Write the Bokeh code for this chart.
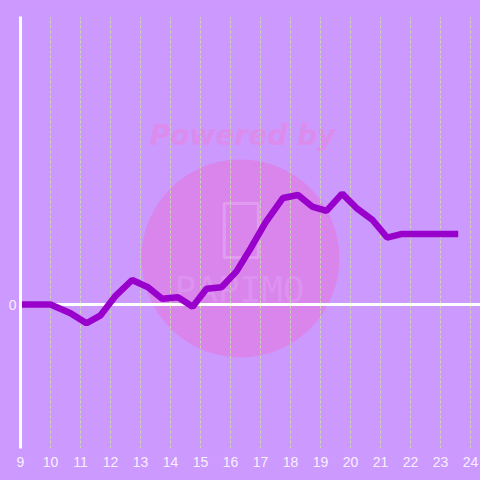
from bokeh.plotting import figure
from bokeh.models import FixedTicker, Span, Range1d
from bokeh.core.properties import value
from bokeh.embed import file_html
from bokeh.resources import INLINE

# ---- data ----
hours = [9.0, 10.0, 10.67, 11.2, 11.67, 12.17, 12.72, 13.25, 13.72, 14.25, 14.74,
         15.2, 15.7, 16.2, 16.67, 17.17, 17.75, 18.25, 18.72, 19.2, 19.72, 20.2,
         20.72, 21.22, 21.72, 22.2, 22.7, 23.2, 23.59]
values = [0.0, 0.0, -0.06, -0.13, -0.075, 0.06, 0.17, 0.12, 0.04, 0.05, -0.015,
          0.11, 0.12, 0.23, 0.39, 0.57, 0.74, 0.76, 0.68, 0.65, 0.77, 0.67,
          0.59, 0.465, 0.49, 0.49, 0.49, 0.49, 0.49]
x_ticks = list(range(9, 25))
y_ticks = [0]

BG = "#cc99ff"

p = figure(width=480, height=480, output_backend="svg", toolbar_location=None,
           x_range=Range1d(9, 24.333), y_range=Range1d(-1, 2),
           min_border_left=20, min_border_right=0, min_border_top=16, min_border_bottom=32)
p.title.visible = False
p.background_fill_color = BG
p.border_fill_color = BG
p.outline_line_color = None

# watermark
wm = p.circle(x=[16.33], y=[0.32], radius=99, radius_units="screen",
              fill_color="#d985ec", line_color=None)
wm.level = "image"
t1 = p.text(x=[16.4], y=[1.174], text=["Powered by"], text_font=value("DejaVu Sans"),
            text_font_size="28px", text_font_style="bold italic", text_color="#dc8ced",
            text_align="center", text_baseline="middle")
t1.level = "image"
ph = p.rect(x=[16.36], y=[0.514], width=34, height=54, width_units="screen",
            height_units="screen", fill_color=None, line_color="#e6acf6", line_width=3,
            line_alpha=0.6)
ph.level = "image"
t2 = p.text(x=[16.3], y=[0.104], text=["PAPIMO"], text_font=value("DejaVu Sans Mono"),
            text_font_size="36px", text_color="#eebbff", text_alpha=0.25,
            text_align="center", text_baseline="middle")
t2.level = "image"

# grid
p.ygrid.grid_line_color = None
p.xgrid.ticker = FixedTicker(ticks=x_ticks)
p.xgrid.grid_line_color = "#ccd6b0"
p.xgrid.grid_line_dash = "3 2"
p.xgrid.grid_line_width = 1

# axes
p.xaxis.ticker = FixedTicker(ticks=x_ticks)
p.yaxis.ticker = FixedTicker(ticks=y_ticks)
for ax in (p.xaxis[0], p.yaxis[0]):
    ax.major_tick_line_color = None
    ax.minor_tick_line_color = None
    ax.major_tick_out = 0
    ax.minor_tick_out = 0
    ax.major_label_text_color = "#f8f0ff"
    ax.major_label_text_font = "Liberation Sans"
    ax.major_label_text_font_size = "14px"
p.xaxis.axis_line_color = None
p.xaxis.major_label_standoff = 8
p.yaxis.axis_line_color = "white"
p.yaxis.axis_line_width = 3
p.yaxis.major_label_standoff = 4

zero = Span(location=0, dimension="width", line_color="white", line_width=3)
zero.level = "underlay"
p.add_layout(zero)

p.line(hours, values, line_color="#9900cc", line_width=6.5)

html = file_html(p, INLINE)
html = html.replace("<head>", "<head><style>html,body{background:#cc99ff;}</style>", 1)
open("out.html", "w").write(html)
